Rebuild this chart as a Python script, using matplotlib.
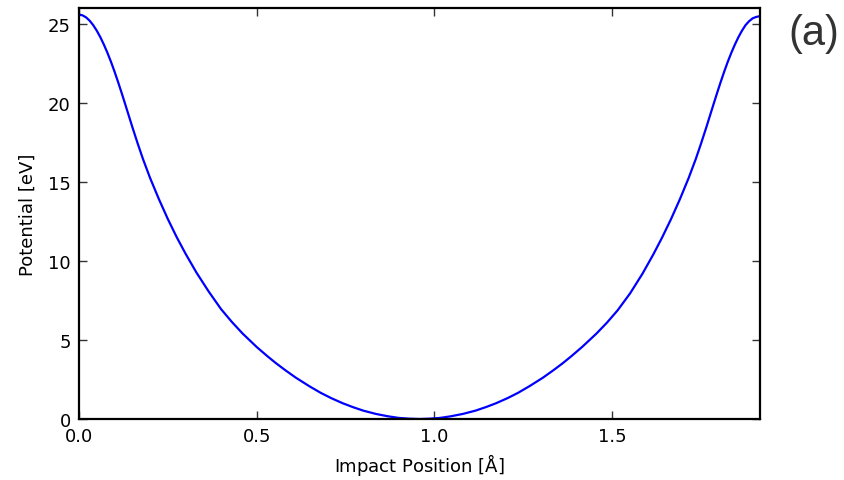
import matplotlib.pyplot as plt

# potential vs impact position
impact_pos = [0.000, 0.010, 0.020, 0.030, 0.040, 0.050, 0.060, 0.070, 0.080, 0.090,
              0.100, 0.110, 0.120, 0.130, 0.140, 0.150, 0.165, 0.180, 0.200, 0.225,
              0.250, 0.275, 0.300, 0.330, 0.365, 0.400, 0.430, 0.460, 0.500, 0.530,
              0.554, 0.580, 0.610, 0.648, 0.680, 0.710, 0.742, 0.770, 0.800, 0.836,
              0.870, 0.900, 0.930, 0.958,
              0.986, 1.016, 1.046, 1.080, 1.116, 1.146, 1.174, 1.206, 1.236, 1.268,
              1.306, 1.336, 1.362, 1.386, 1.416, 1.456, 1.486, 1.516, 1.551, 1.586,
              1.616, 1.641, 1.666, 1.691, 1.716, 1.736, 1.751, 1.766, 1.776, 1.786,
              1.796, 1.806, 1.816, 1.826, 1.836, 1.846, 1.856, 1.866, 1.876, 1.886,
              1.896, 1.906, 1.917]
potential = [25.60, 25.55, 25.42, 25.21, 24.93, 24.58, 24.17, 23.70, 23.18, 22.61,
             21.99, 21.33, 20.64, 19.93, 19.21, 18.49, 17.45, 16.46, 15.26, 13.91,
             12.66, 11.51, 10.46, 9.29, 8.07, 6.95, 6.15, 5.42, 4.56, 3.98,
             3.54, 3.10, 2.62, 2.08, 1.66, 1.32, 1.00, 0.76, 0.53, 0.32,
             0.17, 0.07, 0.02, 0.00,
             0.02, 0.07, 0.17, 0.32, 0.53, 0.76, 1.00, 1.32, 1.66, 2.08,
             2.62, 3.10, 3.54, 3.98, 4.56, 5.40, 6.10, 6.88, 7.95, 9.20,
             10.40, 11.48, 12.64, 13.90, 15.26, 16.46, 17.45, 18.49, 19.21, 19.93,
             20.64, 21.33, 21.99, 22.61, 23.18, 23.70, 24.17, 24.58, 24.93, 25.18,
             25.36, 25.45, 25.50]

xticks = [0.0, 0.5, 1.0, 1.5]
yticks = [0, 5, 10, 15, 20, 25]

fig = plt.figure(figsize=(8.44, 4.81), dpi=100)
ax = fig.add_axes([0.0936, 0.1268, 0.807, 0.854])

ax.plot(impact_pos, potential, color='blue', linewidth=1.6, solid_joinstyle='round')

ax.set_xlim(0, 1.917)
ax.set_ylim(0, 26)
ax.set_xticks(xticks)
ax.set_xticklabels(['0.0', '0.5', '1.0', '1.5'])
ax.set_yticks(yticks)

ax.tick_params(direction='in', length=6, width=1, top=True, right=True,
               labelsize=13, pad=6, color='#333333')
for s in ax.spines.values():
    s.set_linewidth(1.6)

ax.set_xlabel(r'Impact Position [$\mathrm{\AA}$]', fontsize=13, labelpad=4)
ax.set_ylabel('Potential [eV]', fontsize=13, labelpad=8)

fig.text(0.9645, 0.93, '(a)', fontsize=30, family='Liberation Sans',
         color='#333333', ha='center', va='center')

fig.savefig('out.png', dpi=100)
